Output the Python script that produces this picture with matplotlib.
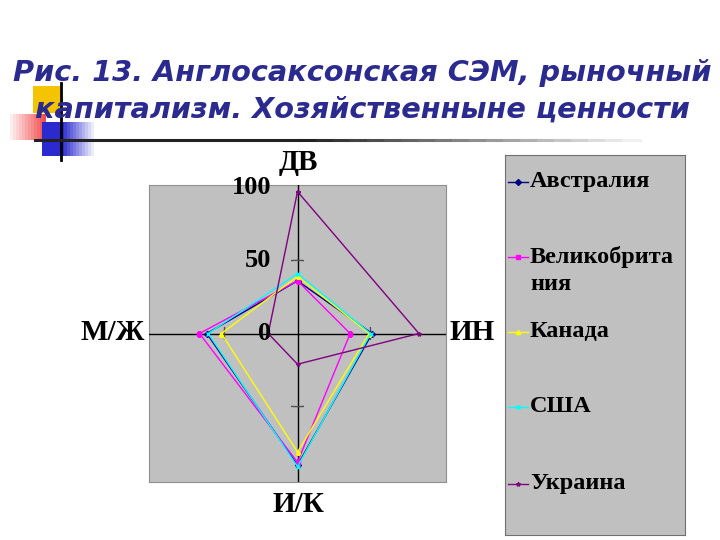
import matplotlib
matplotlib.use("Agg")
import matplotlib.pyplot as plt
import numpy as np
from matplotlib.patches import Rectangle

# axes of the radar (clockwise from the top)
categories = ["ДВ", "ИН", "И/К", "М/Ж"]
series_names = ["Австралия", "Великобрита\nния", "Канада", "США", "Украина"]

australia = [36, 51, 90, 62]
britain = [36, 36, 88, 67]
canada = [39, 49, 81, 52]
usa = [41, 50, 91, 61]
ukraine = [97, 83, 21, 20]

r_ticks = [0, 50, 100]
r_tick_labels = ["0", "50", "100"]

series = [australia, britain, canada, usa, ukraine]
colors = ["#000080", "#FF00FF", "#FFFF00", "#00FFFF", "#800080"]
markers = ["D", "s", "^", "x", "*"]

W, H = 720, 540
fig = plt.figure(figsize=(7.2, 5.4), dpi=100)
fig.patch.set_facecolor("white")


def fx(px):
    return px / W


def fy(py):
    return 1 - py / H


# slide decoration
fig.patches.append(Rectangle((fx(33), fy(113)), 29 / W, 27 / H, transform=fig.transFigure,
                             facecolor="#F5C400", edgecolor="none", zorder=0))
for i in range(12):
    fig.patches.append(Rectangle((fx(10 + i * 3), fy(140)), 3 / W, 26 / H, transform=fig.transFigure,
                                 facecolor="#F03030", alpha=0.08 + i * 0.07, edgecolor="none", zorder=1))
fig.patches.append(Rectangle((fx(42), fy(156)), 22 / W, 34 / H, transform=fig.transFigure,
                             facecolor="#2A2ACF", edgecolor="none", zorder=1))
for i in range(10):
    fig.patches.append(Rectangle((fx(64 + i * 3), fy(156)), 3 / W, 34 / H, transform=fig.transFigure,
                                 facecolor="#2A2ACF", alpha=0.9 - i * 0.09, edgecolor="none", zorder=1))
fig.add_artist(plt.Line2D([fx(61), fx(61)], [fy(83), fy(160)], transform=fig.transFigure,
                          color="black", lw=2, zorder=3))
fig.add_artist(plt.Line2D([fx(35), fx(300)], [fy(140), fy(140)], transform=fig.transFigure,
                          color="#222222", lw=2.2, zorder=3))
for i in range(20):
    x0 = 300 + i * 17
    fig.add_artist(plt.Line2D([fx(x0), fx(x0 + 17)], [fy(140), fy(140)], transform=fig.transFigure,
                              color=str(0.13 + i * 0.043), lw=2.2, zorder=3))

title_kw = dict(ha="center", va="center", fontsize=20.7, fontweight="bold", style="italic",
                color="#2B2B8F", family="DejaVu Sans", zorder=5)
fig.text(fx(362), fy(73), "Рис. 13. Англосаксонская СЭМ, рыночный", **title_kw)
fig.text(fx(362), fy(110), "капитализм. Хозяйственныне ценности", **title_kw)

# gray plot area behind the radar
box = [fx(149), fy(482), 297 / W, 297 / H]
bg = fig.add_axes(box)
bg.set_facecolor("#C0C0C0")
bg.set_xticks([])
bg.set_yticks([])
for s in bg.spines.values():
    s.set_color("#909090")
    s.set_linewidth(0.8)

ax = fig.add_axes(box, projection="polar")
ax.patch.set_alpha(0)
ax.set_theta_zero_location("N")
ax.set_theta_direction(-1)
rmax = 101.5
ax.set_ylim(0, rmax)
ax.grid(False)
ax.spines["polar"].set_visible(False)
ax.set_xticks([])
ax.set_yticks([])

angles = np.arange(len(categories)) * 2 * np.pi / len(categories)
for a in angles:
    ax.plot([a, a], [0, rmax], color="black", lw=1, zorder=2)
    r = r_ticks[1]
    d = 4.0 / r
    ax.plot(np.linspace(a - d, a + d, 5), [r] * 5, color="#505050", lw=1, zorder=2)

for vals, name, c, m in zip(series, series_names, colors, markers):
    th = np.append(angles, angles[0])
    rr = np.append(vals, vals[0])
    ax.plot(th, rr, color=c, lw=1.0, marker=m, markersize=3, label=name, zorder=3)

# tick labels along the top axis
for r, lab in zip(r_ticks, r_tick_labels):
    ax.annotate(lab, xy=(0, r), xytext=(-19, 0), textcoords="offset points",
                ha="right", va="center", fontsize=19, fontweight="bold", family="Liberation Serif",
                zorder=4)

lab_kw = dict(ha="center", va="center", fontsize=21, fontweight="bold", family="Liberation Serif")
fig.text(fx(298), fy(163), categories[0], **lab_kw)
fig.text(fx(472), fy(333), categories[1], **lab_kw)
fig.text(fx(298), fy(504), categories[2], **lab_kw)
fig.text(fx(113), fy(333), categories[3], **lab_kw)

# legend
lbox = fig.add_axes([fx(505), fy(535), 180 / W, 380 / H])
lbox.set_facecolor("#C0C0C0")
lbox.set_xticks([])
lbox.set_yticks([])
for s in lbox.spines.values():
    s.set_color("#707070")
    s.set_linewidth(0.8)
lbox.set_xlim(505, 685)
lbox.set_ylim(535, 155)
leg_y = [182, 257, 332, 407, 484]
for y, name, c, m in zip(leg_y, series_names, colors, markers):
    lbox.plot([508, 528], [y, y], color=c, lw=1.0)
    lbox.plot([518], [y], color=c, marker=m, markersize=3)
    lbox.text(530, y, name.split("\n")[0], ha="left", va="center", fontsize=17.5, fontweight="bold",
              family="Liberation Serif")
    if "\n" in name:
        lbox.text(530, y + 28, name.split("\n")[1], ha="left", va="center", fontsize=17.5,
                  fontweight="bold", family="Liberation Serif")

fig.savefig("out.png", dpi=100)
